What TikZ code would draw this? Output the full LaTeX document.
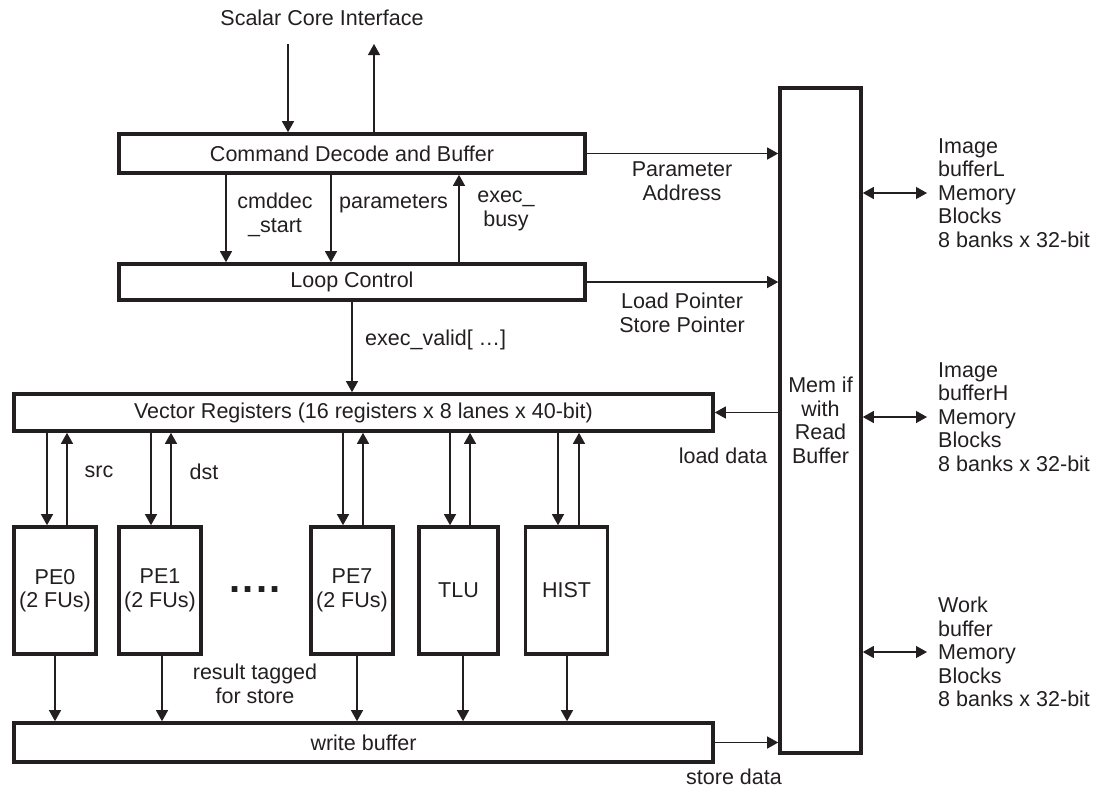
\documentclass[tikz,border=0pt]{standalone}
\usepackage{fontspec}
\setmainfont{Liberation Sans}
\usetikzlibrary{arrows.meta}
\definecolor{ink}{RGB}{35,31,32}
\newcommand\lbl{\fontsize{21.5}{23.5}\selectfont}
\begin{document}
\begin{tikzpicture}[x=1pt,y=-1pt,
  every node/.style={text=ink},
  box/.style={draw=ink, line width=3.6pt, inner sep=0pt, align=center, font=\lbl},
  pe/.style={box, minimum width=82pt, minimum height=127pt},
  txt/.style={font=\lbl, align=center, inner sep=0pt},
  conn/.style={line width=1.2pt, draw=ink, -{Triangle[length=11pt,width=12pt]}},
  biconn/.style={line width=1.2pt, draw=ink, {Triangle[length=11pt,width=12pt]}-{Triangle[length=11pt,width=12pt]}}]
\useasboundingbox (0,0) rectangle (1094,788);

% blocks
\node[box, minimum width=466pt, minimum height=39pt] (cmd) at (352,153.5) {Command Decode and Buffer};
\node[box, minimum width=466pt, minimum height=36pt] (loop) at (352,282) {Loop Control};
\node[box, minimum width=699pt, minimum height=37pt] (vreg) at (363.5,412.5) {Vector Registers (16 registers x 8 lanes x 40-bit)};
\node[pe] (pe0) at (55,590.5) {PE0\\(2 FUs)};
\node[pe] (pe1) at (160,590.5) {PE1\\(2 FUs)};
\node[pe] (pe7) at (352,590.5) {PE7\\(2 FUs)};
\node[pe, minimum width=79pt] (tlu) at (458.5,590.5) {TLU};
\node[pe] (hist) at (566.5,590.5) {HIST};
\node[box, minimum width=699pt, minimum height=39pt] (wbuf) at (363.5,742.5) {write buffer};
\node[box, minimum width=81pt, minimum height=665pt] (mem) at (820.5,420.5) {Mem if\\with\\Read\\Buffer};

% scalar core interface
\node[txt] (sci) at (322,18) {Scalar Core Interface};
\coordinate (in1) at (288,44);
\coordinate (out1) at (374,44);
\draw[conn] (in1) -- (in1 |- cmd.north);
\draw[conn] (out1 |- cmd.north) -- (out1);

% cmd <-> loop
\draw[conn] (cmd.south -| 226,0) -- (loop.north -| 226,0);
\draw[conn] (cmd.south -| 331,0) -- (loop.north -| 331,0);
\draw[conn] (loop.north -| 459,0) -- (cmd.south -| 459,0);
\node[txt] (lcs) at (275,215) {cmddec\\\_start};
\node[txt, anchor=west] (lpar) at (339,204) {parameters};
\node[txt] (leb) at (506,211) {exec\_\\busy};

% to memory interface
\draw[conn] (cmd.east) -- (cmd.east -| mem.west);
\node[txt] (lpa) at (682,181) {Parameter\\Address};
\draw[conn] (loop.east) -- (loop.east -| mem.west);
\node[txt] (llp) at (682,313) {Load Pointer\\Store Pointer};

% loop -> vreg
\draw[conn] (loop.south) -- (loop.south |- vreg.north);
\node[txt, anchor=west] (lev) at (365,340) {exec\_valid[ …]};

% load data
\draw[conn] (vreg.east -| mem.west) -- (vreg.east);
\node[txt] (lld) at (723,456) {load data};

% vreg <-> PEs, PEs -> write buffer
\foreach \n/\d/\u/\b in {pe0/47/67/55, pe1/151/171/162, pe7/343/363/357, tlu/450/470/463, hist/558/579/567} {
  \draw[conn] (vreg.south -| \d,0) -- (\n.north -| \d,0);
  \draw[conn] (\n.north -| \u,0) -- (vreg.south -| \u,0);
  \draw[conn] (\n.south -| \b,0) -- (wbuf.north -| \b,0);
}
\node[txt] (lsrc) at (99,472) {src};
\node[txt] (ldst) at (204,472) {dst};
\node[txt, font=\fontsize{40}{40}\selectfont\bfseries] (dots) at (255,590) {.\hspace{2.5pt}.\hspace{2.5pt}.\hspace{2.5pt}.};
\node[txt] (lres) at (255,684) {result tagged\\for store};

% store data
\draw[conn] (wbuf.east) -- (wbuf.east -| mem.west);
\node[txt] (lsd) at (734,777) {store data};

% memory blocks
\coordinate (m1) at (927,193);
\coordinate (m2) at (927,417);
\coordinate (m3) at (927,652);
\draw[biconn] (m1 -| mem.east) -- (m1);
\draw[biconn] (m2 -| mem.east) -- (m2);
\draw[biconn] (m3 -| mem.east) -- (m3);
\node[txt, anchor=west, align=left] (bl) at (938,193) {Image\\bufferL\\Memory\\Blocks\\8 banks x 32-bit};
\node[txt, anchor=west, align=left] (bh) at (938,417) {Image\\bufferH\\Memory\\Blocks\\8 banks x 32-bit};
\node[txt, anchor=west, align=left] (bw) at (938,652) {Work\\buffer\\Memory\\Blocks\\8 banks x 32-bit};
\end{tikzpicture}
\end{document}
